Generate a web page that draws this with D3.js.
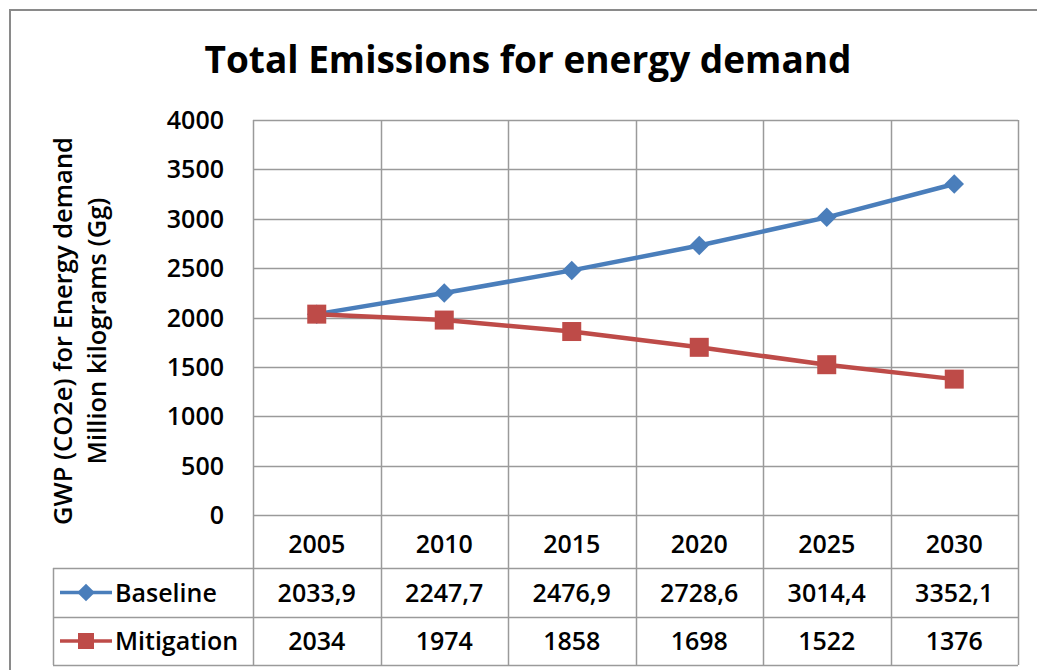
<!DOCTYPE html>
<html>
<head>
<meta charset="utf-8">
<script src="https://cdn.jsdelivr.net/npm/d3@7"></script>
<style>
  body { margin: 0; background: #fff; }
  svg text { font-family: "Open Sans", sans-serif; font-weight: 600; fill: #000; }
</style>
</head>
<body>
<svg id="chart" width="1037" height="670"></svg>
<script>

var years = ["2005", "2010", "2015", "2020", "2025", "2030"]
var baseline = [2033.9, 2247.7, 2476.9, 2728.6, 3014.4, 3352.1]
var mitigation = [2034, 1974, 1858, 1698, 1522, 1376]
var baselineLabels = ["2033,9", "2247,7", "2476,9", "2728,6", "3014,4", "3352,1"]
var mitigationLabels = ["2034", "1974", "1858", "1698", "1522", "1376"]
var yTicks = [0, 500, 1000, 1500, 2000, 2500, 3000, 3500, 4000]

var series = [
    {name: "Baseline", values: baseline, labels: baselineLabels, colour: "#4a7ebb", shape: "diamond"},
    {name: "Mitigation", values: mitigation, labels: mitigationLabels, colour: "#be4b48", shape: "square"}
]

var svg = d3.select("#chart")
var grid_colour = "#9a9a9a"

var plot = {left: 253, right: 1018, top: 120, bottom: 515}
var rowH = [53, 49, 48]   // header row, baseline row, mitigation row
var legendLeft = 53

var x = d3.scaleBand()
    .domain(years)
    .range([plot.left, plot.right])
    .padding(0)

var y = d3.scaleLinear()
    .domain([0, 4000])
    .range([plot.bottom, plot.top])

function cx(i) {
    return x(years[i]) + x.bandwidth() / 2
}

// outer chart border
svg.append("rect")
    .attr("x", 10).attr("y", 10)
    .attr("width", 1040).attr("height", 700)
    .attr("fill", "none")
    .attr("stroke", "#8a8a8a")
    .attr("stroke-width", 2)

svg.append("text")
    .attr("x", 528)
    .attr("y", 73)
    .attr("text-anchor", "middle")
    .style("font-size", "37px")
    .style("font-weight", 700)
    .text("Total Emissions for energy demand")

// horizontal gridlines and tick labels
svg.append("g")
    .selectAll("line")
    .data(yTicks)
    .enter()
    .append("line")
    .attr("x1", plot.left).attr("x2", plot.right)
    .attr("y1", function(d) { return Math.round(y(d)) + 0.5 })
    .attr("y2", function(d) { return Math.round(y(d)) + 0.5 })
    .attr("stroke", grid_colour)
    .attr("stroke-width", 1.5)

svg.append("g")
    .selectAll("text")
    .data(yTicks)
    .enter()
    .append("text")
    .attr("x", 224)
    .attr("y", function(d) { return y(d) })
    .attr("dy", "0.36em")
    .attr("text-anchor", "end")
    .style("font-size", "25px")
    .text(function(d) { return d })

// y axis title, two lines rotated
var ytitle = svg.append("text")
    .attr("transform", "translate(0,331) rotate(-90)")
    .attr("text-anchor", "middle")
    .style("font-size", "25.5px")
ytitle.append("tspan").attr("x", 0).attr("y", 72).text("GWP (CO2e) for Energy demand")
ytitle.append("tspan").attr("x", 0).attr("y", 106).text("Million kilograms (Gg)")

// data table rows
var tableTop = plot.bottom
var rowY = [tableTop, tableTop + rowH[0], tableTop + rowH[0] + rowH[1], tableTop + rowH[0] + rowH[1] + rowH[2]]

// vertical lines: plot left edge + category edges, running through the table
var edges = years.map(function(d) { return x(d) }).concat([plot.right])
svg.append("g")
    .selectAll("line")
    .data(edges)
    .enter()
    .append("line")
    .attr("x1", function(d) { return Math.round(d) + 0.5 })
    .attr("x2", function(d) { return Math.round(d) + 0.5 })
    .attr("y1", plot.top)
    .attr("y2", rowY[3])
    .attr("stroke", grid_colour)
    .attr("stroke-width", 1.5)

// table horizontal lines
svg.append("g")
    .selectAll("line")
    .data(rowY.slice(1))
    .enter()
    .append("line")
    .attr("x1", legendLeft).attr("x2", plot.right)
    .attr("y1", function(d) { return d + 0.5 })
    .attr("y2", function(d) { return d + 0.5 })
    .attr("stroke", grid_colour)
    .attr("stroke-width", 1.5)

svg.append("line")
    .attr("x1", legendLeft + 0.5).attr("x2", legendLeft + 0.5)
    .attr("y1", rowY[1]).attr("y2", rowY[3])
    .attr("stroke", grid_colour)
    .attr("stroke-width", 1.5)

// year header
svg.append("g")
    .selectAll("text")
    .data(years)
    .enter()
    .append("text")
    .attr("x", function(d, i) { return cx(i) })
    .attr("y", (rowY[0] + rowY[1]) / 2 + 2)
    .attr("dy", "0.36em")
    .attr("text-anchor", "middle")
    .style("font-size", "25px")
    .text(function(d) { return d })

function marker(g, shape, colour, size) {
    if (shape == "diamond") {
        g.append("path")
            .attr("d", d3.symbol().type(d3.symbolDiamond2).size(size * size * 0.5)())
            .attr("fill", colour)
    } else {
        g.append("rect")
            .attr("x", -size / 2).attr("y", -size / 2)
            .attr("width", size).attr("height", size)
            .attr("fill", colour)
    }
}

series.forEach(function(s, k) {
    var top = rowY[k + 1], bot = rowY[k + 2]
    var mid = (top + bot) / 2

    // legend key inside the table
    svg.append("line")
        .attr("x1", 60).attr("x2", 112)
        .attr("y1", mid).attr("y2", mid)
        .attr("stroke", s.colour)
        .attr("stroke-width", 3.5)
    var km = svg.append("g").attr("transform", "translate(86," + mid + ")")
    marker(km, s.shape, s.colour, s.shape == "diamond" ? 20 : 16)

    svg.append("text")
        .attr("x", 115)
        .attr("y", mid)
        .attr("dy", "0.36em")
        .style("font-size", "25px")
        .text(s.name)

    svg.append("g")
        .selectAll("text")
        .data(s.labels)
        .enter()
        .append("text")
        .attr("x", function(d, i) { return cx(i) })
        .attr("y", mid)
        .attr("dy", "0.36em")
        .attr("text-anchor", "middle")
        .style("font-size", "25px")
        .text(function(d) { return d })
})

// series lines and markers
var line = d3.line()
    .x(function(d, i) { return cx(i) })
    .y(function(d) { return y(d) })

series.forEach(function(s) {
    svg.append("path")
        .attr("d", line(s.values))
        .attr("fill", "none")
        .attr("stroke", s.colour)
        .attr("stroke-width", 4.5)
        .attr("stroke-linejoin", "round")

    svg.append("g")
        .selectAll("g")
        .data(s.values)
        .enter()
        .append("g")
        .attr("transform", function(d, i) { return "translate(" + cx(i) + "," + y(d) + ")" })
        .each(function() {
            marker(d3.select(this), s.shape, s.colour, s.shape == "diamond" ? 22 : 19)
        })
})

</script>
</body>
</html>
